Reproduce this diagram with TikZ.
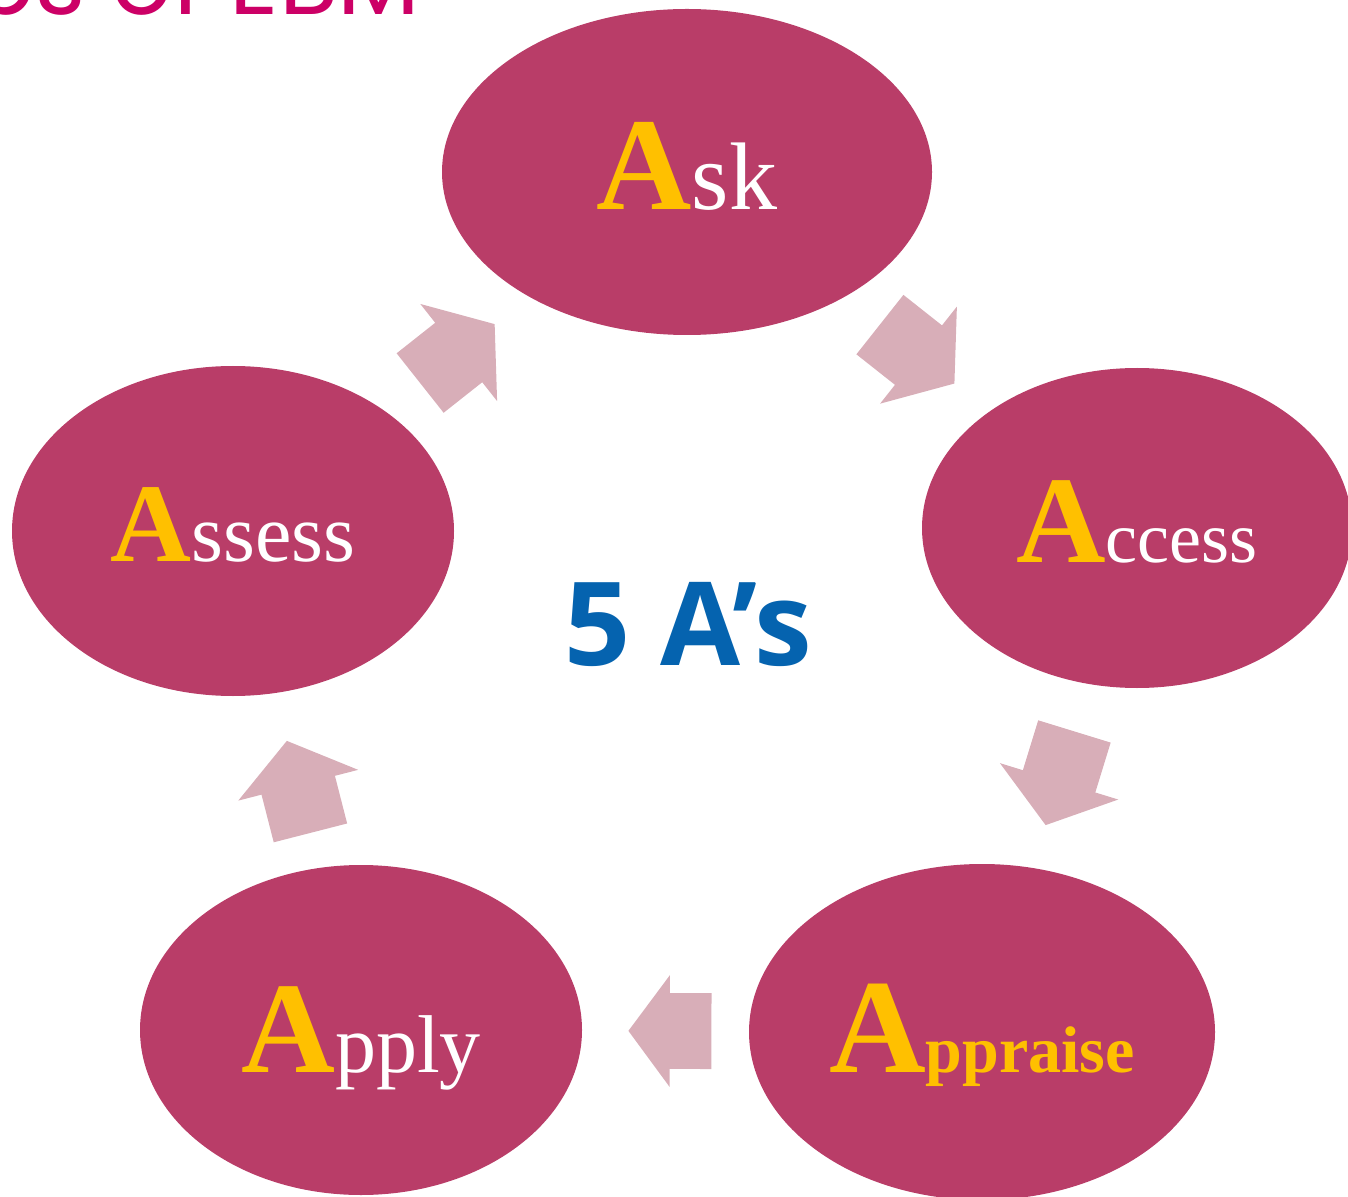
\documentclass[tikz,border=0pt]{standalone}
\usepackage{fontspec}
\setmainfont{Liberation Serif}
\newfontfamily\titlefont{Poppins}
\newfontfamily\centerfont{Open Sans}
\usetikzlibrary{shapes.geometric,shapes.arrows}

\definecolor{stagefill}{HTML}{B93D68}
\definecolor{arrowfill}{HTML}{D8AEB8}
\definecolor{initial}{HTML}{FFC000}
\definecolor{centreblue}{HTML}{0563AF}
\definecolor{titlepink}{HTML}{CC0066}

% one drawing unit = one pixel of the layout grid
\newdimen\pxu \pxu=0.5pt

% big bold initial "A" followed by the rest of the word
\newcommand\stagelabel[4]{%
  {\fontsize{#1}{#1}\selectfont\bfseries\color{initial}A}%
  {\fontsize{#2}{#2}\selectfont #3#4}}

\tikzset{
  stage/.style={ellipse, fill=stagefill, draw=none, inner sep=0pt,
    text=white, text depth=0pt},
  % the baseline sits half of "text height" below the centre
  drop/.style={text height=2*#1\pxu},
  flow/.style={single arrow, fill=arrowfill, draw=none,
    inner xsep=0pt, inner ysep=37.5\pxu,
    single arrow head extend=24\pxu, single arrow tip angle=107,
    minimum height=95\pxu, sloped, allow upside down},
}

\begin{document}
\begin{tikzpicture}[x=0.5pt, y=-0.5pt]
  \useasboundingbox (0,0) rectangle (1348,1197);
  \clip (0,0) rectangle (1348,1197);

  % heading, mostly above the top edge
  \node[anchor=base east, inner sep=0pt, text=titlepink,
        font=\titlefont\fontsize{48}{48}\selectfont] (heading) at (421,15)
        {Steps of EBM};

  % the five stages of the cycle
  \node[stage, drop=38, minimum width=490\pxu, minimum height=326\pxu] (ask)
    at (687,172) {\stagelabel{66pt}{48pt}{}{sk}};
  \node[stage, drop=34, minimum width=430\pxu, minimum height=320\pxu] (access)
    at (1137,528) {\stagelabel{62pt}{36pt}{}{ccess}};
  \node[stage, drop=40, minimum width=466\pxu, minimum height=336\pxu] (appraise)
    at (982,1032) {\stagelabel{67pt}{33pt}{\bfseries\color{initial}}{ppraise}};
  \node[stage, drop=42, minimum width=442\pxu, minimum height=330\pxu] (apply)
    at (361,1030) {\stagelabel{65pt}{41pt}{}{pply}};
  \node[stage, drop=30, minimum width=442\pxu, minimum height=330\pxu] (assess)
    at (233,531) {\stagelabel{56pt}{41pt}{}{ssess}};

  % centre caption
  \node[anchor=base, inner sep=0pt, text=centreblue,
        font=\centerfont\bfseries\fontsize{58}{58}\selectfont] (centre)
        at (688,665) {5 A’s};

  % block arrows between consecutive stages
  \path (ask.center) -- node[flow, pos=0.487] (f1) {} (access.center);
  \path (access.center) -- node[flow, pos=0.47, minimum height=98\pxu] (f2) {} (appraise.center);
  \path (appraise.center) -- node[flow, pos=0.48, minimum height=83\pxu,
        single arrow head extend=18\pxu] (f3) {} (apply.center);
  \path (apply.center) -- node[flow, pos=0.46] (f4) {} (assess.center);
  \path (assess.center) -- node[flow, pos=0.47] (f5) {} (ask.center);
\end{tikzpicture}
\end{document}
